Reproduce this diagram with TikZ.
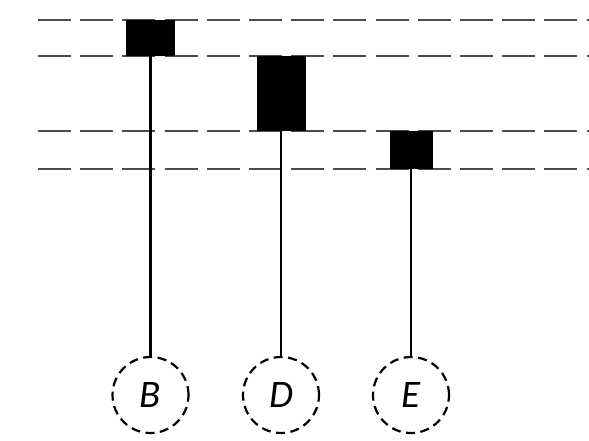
\documentclass[tikz,border=0pt]{standalone}
\usepackage{fontspec}
\setmainfont{Carlito}
\begin{document}
\begin{tikzpicture}[x=1pt,y=-1pt,
  level/.style={line width=2pt,draw=black!70,dash pattern=on 33pt off 9.2pt},
  bar/.style={fill=black,draw=none},
  stem/.style={line width=2.2pt,draw=black},
  mol/.style={circle,draw=black,line width=2.2pt,dash pattern=on 9pt off 5.5pt,minimum size=76pt,inner sep=0pt,font=\fontsize{39}{41}\selectfont\itshape}]
\useasboundingbox (0,0) rectangle (589,441);
\coordinate (l1a) at (38,20.5); \coordinate (l1b) at (589,20.5);
\coordinate (l2a) at (38,56);   \coordinate (l2b) at (589,56);
\coordinate (l3a) at (38,131);  \coordinate (l3b) at (589,131);
\coordinate (l4a) at (38,169);  \coordinate (l4b) at (589,169);
\draw[level] (l1a) -- (l1b);
\draw[level] (l2a) -- (l2b);
\draw[level] (l3a) -- (l3b);
\draw[level] (l4a) -- (l4b);
\path[bar] (126,20) rectangle (175,56);
\path[bar] (256.5,56) rectangle (305.5,131);
\path[bar] (390,131) rectangle (432.5,169);
\coordinate (b1) at (150.5,56);
\coordinate (b2) at (281,131);
\coordinate (b3) at (411,169);
\node[mol] (B) at (150.5,395) {B};
\node[mol] (D) at (281,395) {D};
\node[mol] (E) at (411,395) {E};
\draw[stem] (b1) -- (B.north);
\draw[stem] (b2) -- (D.north);
\draw[stem] (b3) -- (E.north);
\end{tikzpicture}
\end{document}
